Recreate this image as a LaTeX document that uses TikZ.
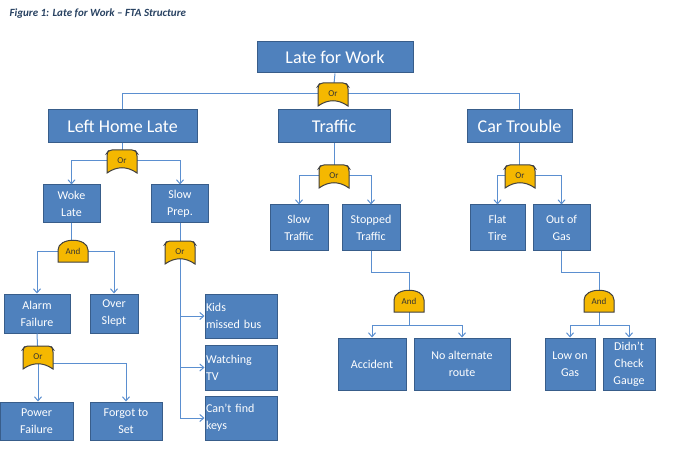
\documentclass[tikz,border=0pt]{standalone}
\usepackage{fontspec}
\setmainfont{Carlito}
\usetikzlibrary{arrows.meta,calc}
\definecolor{bfill}{HTML}{4F81BD}
\definecolor{bdraw}{HTML}{385D8A}
\definecolor{lcol}{HTML}{5B8FD0}
\definecolor{gfill}{HTML}{F5B800}
\begin{document}
\begin{tikzpicture}[x=1pt,y=-1pt,
  box/.style={draw=bdraw,fill=bfill,text=white,line width=1pt,inner sep=1pt,align=center,font=\fontsize{12}{17}\selectfont},
  big/.style={box,font=\fontsize{18}{20}\selectfont},
  lbox/.style={box,align=left,text width=70pt},
  gt/.style={minimum width=30pt,minimum height=24pt,inner sep=0pt,font=\fontsize{9}{10}\selectfont,text=black!80},
  gshape/.style={fill=gfill,draw=black!75,line width=1pt},
  con/.style={draw=lcol,line width=1pt},
  arr/.style={con,-{Straight Barb[length=4pt,width=7pt]}}]
\useasboundingbox (0,0) rectangle (676,454);
\fill[white] (0,0) rectangle (676,454);
\newcommand\org[4]{\path[gshape,rounded corners=3pt] (#2-15,#3+12) -- (#2-15,#3-8) -- (#2-13,#3-11) -- (#2+13,#3-11) -- (#2+15,#3-8) [sharp corners] -- (#2+15,#3+12) .. controls (#2+5,#3+5) and (#2-5,#3+5) .. (#2-15,#3+12) -- cycle;
 \node[gt] (#1) at (#2,#3) {#4};}
\newcommand\andg[4]{\path[gshape] (#2-15,#3+11) -- (#2-15,#3-1) .. controls (#2-15,#3-14) and (#2+15,#3-14) .. (#2+15,#3-1) -- (#2+15,#3+11) -- cycle;
 \node[gt] (#1) at (#2,#3) {#4};}
\node[anchor=west,text=bdraw!70!black,font=\fontsize{11}{12}\selectfont\itshape\bfseries] (title) at (6,14) {Figure 1: Late for Work -- FTA Structure};
% boxes
\node[big,minimum width=156pt,minimum height=31pt] (lfw) at (335,57.5) {Late for Work};
\node[big,minimum width=149pt,minimum height=33pt] (lhl) at (122.5,126.5) {Left Home Late};
\node[big,minimum width=112pt,minimum height=33pt] (tr) at (334,126.5) {Traffic};
\node[big,minimum width=105pt,minimum height=33pt] (ct) at (519.5,126.5) {Car Trouble};
\node[box,minimum width=57pt,minimum height=37pt] (woke) at (71.5,203.5) {Woke\\Late};
\node[box,minimum width=57pt,minimum height=37pt] (slowp) at (180,203.5) {Slow\\Prep.};
\node[box,minimum width=58pt,minimum height=45pt] (slowt) at (299,227.5) {Slow\\Traffic};
\node[box,minimum width=58pt,minimum height=45pt] (stopped) at (371,227.5) {Stopped\\Traffic};
\node[box,minimum width=55pt,minimum height=45pt] (flat) at (497.5,227.5) {Flat\\Tire};
\node[box,minimum width=57pt,minimum height=45pt] (oog) at (561.5,227.5) {Out of\\Gas};
\node[box,minimum width=66pt,minimum height=39pt] (alarm) at (37,313.5) {Alarm\\Failure};
\node[box,minimum width=48pt,minimum height=39pt] (over) at (114,313.5) {Over\\Slept};
\node[lbox,minimum height=44pt] (kids) at (241,316) {Kids\\missed bus};
\node[lbox,minimum height=45pt] (tv) at (241,367.5) {Watching\\TV};
\node[lbox,minimum height=44pt] (keys) at (241,418) {Can't find\\keys};
\node[box,minimum width=73pt,minimum height=38pt] (power) at (36.5,421) {Power\\Failure};
\node[box,minimum width=72pt,minimum height=38pt] (forgot) at (126,421) {Forgot to\\Set};
\node[box,minimum width=68pt,minimum height=52pt] (acc) at (372,364) {Accident};
\node[box,minimum width=96pt,minimum height=52pt] (noalt) at (462,364) {No alternate\\route};
\node[box,minimum width=50pt,minimum height=52pt] (low) at (570,364) {Low on\\Gas};
\node[box,minimum width=52pt,minimum height=52pt] (didnt) at (629,364) {Didn't\\Check\\Gauge};
\coordinate (k1) at (371,272);
\coordinate (k2) at (561.5,272);
\coordinate (h7) at (409,325);
\coordinate (h8) at (599,325);
% gate placeholders for connectors
\path (333,94) coordinate (c0) (122,161) coordinate (c1) (334,176) coordinate (c2) (520,176) coordinate (c3)
 (73,251) coordinate (c4) (180,252) coordinate (c5) (38,357) coordinate (c6) (409,301) coordinate (c7) (599,301) coordinate (c8);
% connectors
\draw[con] (lfw.south) -- (c0);
\draw[con] (lhl.north) |- (c0);
\draw[con] (ct.north) |- (c0);
\draw[con] (lhl.south) -- (lhl.south |- c1);
\draw[con] (tr.south) -- (tr.south |- c2);
\draw[con] (ct.south) -- (ct.south |- c3);
\draw[arr] (c1) -| (woke.north);
\draw[arr] (c1) -| (slowp.north);
\draw[arr] (c2) -| (slowt.north);
\draw[arr] (c2) -| (stopped.north);
\draw[arr] (c3) -| (flat.north);
\draw[arr] (c3) -| (oog.north);
\draw[con] (woke.south) -- (woke.south |- c4);
\draw[arr] (c4) -| (alarm.north);
\draw[arr] (c4) -| (over.north);
\draw[con] (slowp.south) -- (c5);
\draw[arr] (c5) |- (kids.west);
\draw[arr] (c5) |- (tv.west);
\draw[arr] (c5) |- (keys.west);
\draw[con] (alarm.south) -- (c6);
\draw[arr] (c6) -- (c6 |- power.north);
\draw[arr] (c6) ++(0,6) -| (forgot.north);
\draw[con] (stopped.south) -- (k1) -| (c7);
\draw[con] (c7) -- (h7);
\draw[arr] (h7) -| (acc.north);
\draw[arr] (h7) -| (noalt.north);
\draw[con] (oog.south) -- (k2) -| (c8);
\draw[con] (c8) -- (h8);
\draw[arr] (h8) -| (low.north);
\draw[arr] (h8) -| (didnt.north);
% gates
\org{g0}{333}{94}{Or}
\org{g1}{122}{161}{Or}
\org{g2}{334}{176}{Or}
\org{g3}{520}{176}{Or}
\andg{g4}{73}{251}{And}
\org{g5}{180}{252}{Or}
\org{g6}{38}{357}{Or}
\andg{g7}{409}{301}{And}
\andg{g8}{599}{301}{And}
\end{tikzpicture}
\end{document}
